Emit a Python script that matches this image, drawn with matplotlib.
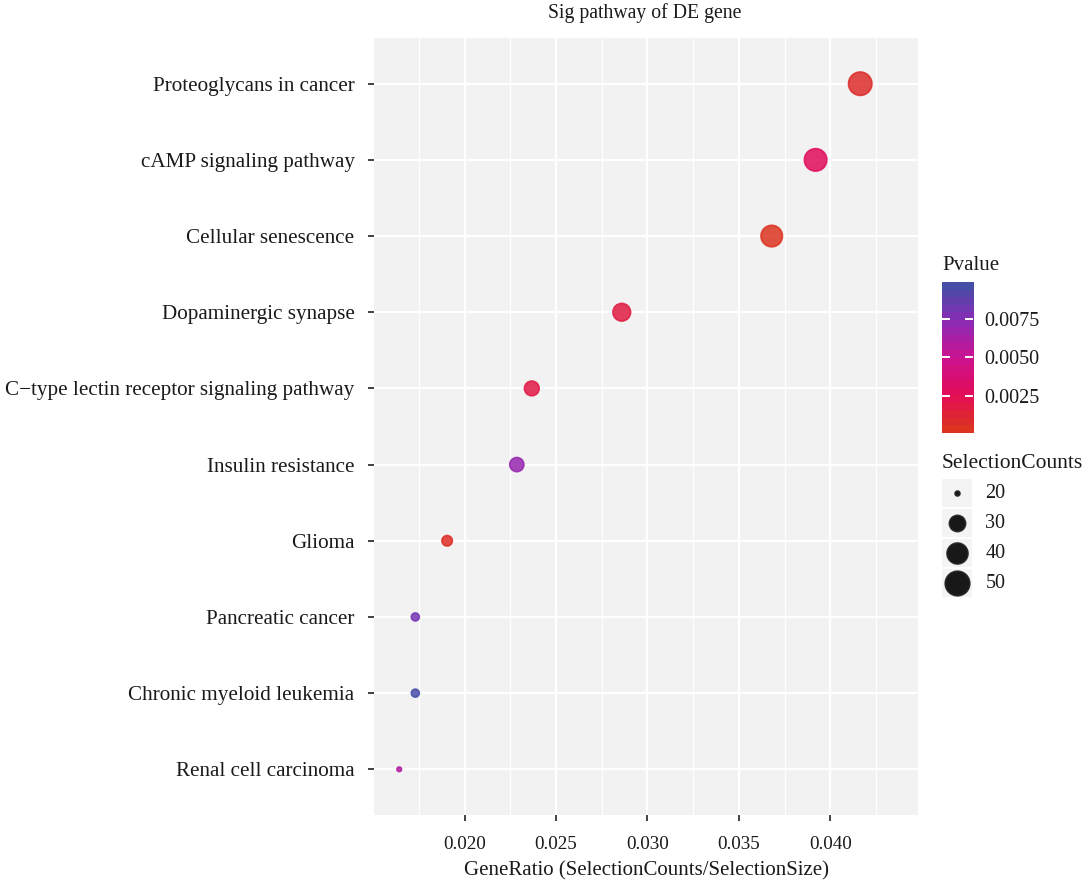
import numpy as np
import matplotlib
matplotlib.use("Agg")
import matplotlib.pyplot as plt
from matplotlib.colors import LinearSegmentedColormap, Normalize
from matplotlib.patches import Rectangle

plt.rcParams['font.family'] = ['Liberation Serif', 'DejaVu Serif']

# enriched pathways, bottom to top as drawn
pathways = ["Renal cell carcinoma", "Chronic myeloid leukemia", "Pancreatic cancer",
            "Glioma", "Insulin resistance", "C\u2212type lectin receptor signaling pathway",
            "Dopaminergic synapse", "Cellular senescence", "cAMP signaling pathway",
            "Proteoglycans in cancer"]
gene_ratio = np.array([0.01643, 0.01731, 0.01731, 0.01905, 0.02286, 0.02368,
                       0.02860, 0.03680, 0.03920, 0.04164])
counts = np.array([20, 21, 21, 23, 28, 29, 35, 45, 48, 51])
pvalues = np.array([0.0060, 0.00986, 0.0082, 0.0005, 0.0070, 0.0018, 0.0016,
                    0.00014, 0.0027, 0.0006])

size_breaks = [20, 30, 40, 50]
p_ticks = [0.0025, 0.0050, 0.0075]

cmap = LinearSegmentedColormap.from_list(
    "pv", [(0.0, "#DC3420"), (0.243, "#E30D58"), (0.5, "#CB1392"),
           (0.757, "#8A2CB6"), (1.0, "#474EA8")])
norm = Normalize(vmin=pvalues.min(), vmax=pvalues.max())

cmin, cmax = counts.min(), counts.max()
TXT = "#1a1a1a"


def dot_area(c, k=4.0):
    # ggplot-style area scale: size 1..6, then to points^2 (dpi 100)
    sz = 1 + 5 * np.sqrt((np.asarray(c, float) - cmin) / (cmax - cmin))
    d_px = 0.9 + k * sz
    return (d_px * 72 / 100) ** 2


fig = plt.figure(figsize=(10.82, 8.88), dpi=100)
ax = fig.add_axes([374 / 1082, 1 - 815 / 888, (918 - 374) / 1082, (815 - 38) / 888])
ax.set_facecolor("#F2F2F2")

ypos = np.arange(1, len(pathways) + 1)
ax.scatter(gene_ratio, ypos, s=dot_area(counts, 3.75), c=pvalues, cmap=cmap, norm=norm,
           alpha=0.85, edgecolors=cmap(norm(pvalues)), linewidths=1.2, zorder=3)

ax.set_xlim(0.01505, 0.0448)
ax.set_ylim(0.4, len(pathways) + 0.6)

ax.set_xticks([0.020, 0.025, 0.030, 0.035, 0.040])
ax.set_xticklabels(["0.020", "0.025", "0.030", "0.035", "0.040"])
ax.set_xticks(np.arange(0.0175, 0.0448, 0.005), minor=True)
ax.set_yticks(ypos)
ax.set_yticklabels(pathways, fontsize=15.2)

ax.grid(True, which="major", color="white", linewidth=1.6)
ax.grid(True, which="minor", axis="x", color="white", linewidth=0.9)
ax.set_axisbelow(True)
for sp in ax.spines.values():
    sp.set_visible(False)
ax.tick_params(axis="both", which="major", length=4, width=1.3, color="#333333",
               labelcolor=TXT)
ax.tick_params(axis="x", labelsize=13.8, pad=11)
ax.tick_params(axis="y", pad=10)
ax.tick_params(which="minor", length=0)

ax.set_xlabel("GeneRatio (SelectionCounts/SelectionSize)", fontsize=15,
              color=TXT, labelpad=6)
fig.text(645 / 1082, 1 - 13 / 888, "Sig pathway of DE gene", ha="center", va="center",
         fontsize=14.2, color=TXT)

# colour bar for Pvalue, stepped like ggplot's guide
cax = fig.add_axes([942 / 1082, 1 - 433 / 888, 31 / 1082, 151 / 888])
steps = np.linspace(pvalues.min(), pvalues.max(), 20)
cax.imshow(steps[:, None], cmap=cmap, norm=norm, aspect="auto", origin="lower",
           extent=[0, 1, pvalues.min(), pvalues.max()], interpolation="nearest")
for t in p_ticks:
    cax.plot([0, 0.22], [t, t], color="white", linewidth=1.4)
    cax.plot([0.78, 1], [t, t], color="white", linewidth=1.4)
cax.set_xlim(0, 1)
cax.set_ylim(pvalues.min(), pvalues.max())
cax.set_xticks([])
cax.yaxis.tick_right()
cax.set_yticks(p_ticks)
cax.set_yticklabels(["%.4f" % t for t in p_ticks])
cax.tick_params(axis="y", length=0, pad=8, labelsize=14.5, labelcolor=TXT)
for sp in cax.spines.values():
    sp.set_visible(False)
fig.text(942 / 1082, 1 - 265 / 888, "Pvalue", ha="left", va="center", fontsize=15,
         color=TXT)

# size legend
lax = fig.add_axes([942 / 1082, 1 - 598 / 888, 30 / 1082, 120 / 888])
lax.set_xlim(0, 1)
lax.set_ylim(len(size_breaks) + 0.5, 0.5)
lax.axis("off")
for i, b in enumerate(size_breaks, start=1):
    lax.add_patch(Rectangle((0, i - 0.48), 1, 0.96, facecolor="#F4F4F4",
                            edgecolor="none"))
    lax.scatter([0.5], [i], s=dot_area(b), color="black", alpha=0.9,
                edgecolors="#222222", linewidths=1.2, zorder=3)
    lax.text(1.45, i, str(b), ha="left", va="center", fontsize=14.5, color=TXT)
fig.text(942 / 1082, 1 - 463 / 888, "SelectionCounts", ha="left", va="center",
         fontsize=15.5, color=TXT)

fig.savefig("out.png", dpi=100, facecolor="white")
